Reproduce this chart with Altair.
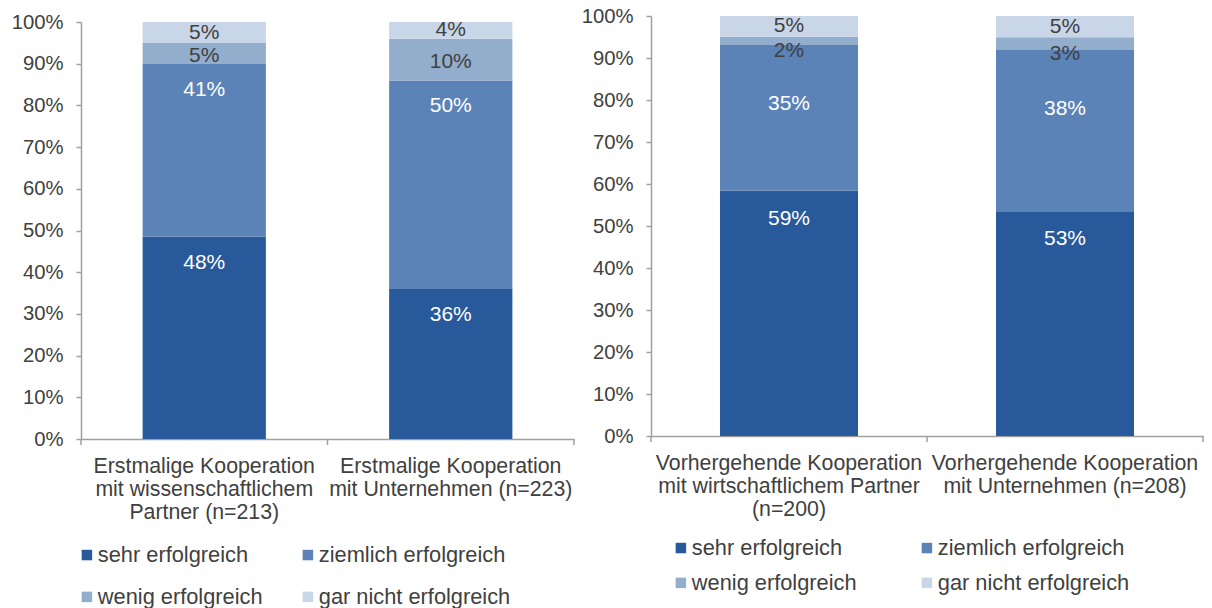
import altair as alt
import pandas as pd

levels = ["sehr erfolgreich", "ziemlich erfolgreich", "wenig erfolgreich", "gar nicht erfolgreich"]
colors = ["#27599B", "#5C83B7", "#93ADCD", "#C8D6E7"]
# legend is filled column by column, so list the entries in that order
legend_order = [0, 2, 1, 3]

left_cats = ["Erstmalige Kooperation\nmit wissenschaftlichem\nPartner (n=213)",
             "Erstmalige Kooperation\nmit Unternehmen (n=223)"]
left_sehr = [48, 36]
left_ziemlich = [41, 50]
left_wenig = [5, 10]
left_gar = [5, 4]

right_cats = ["Vorhergehende Kooperation\nmit wirtschaftlichem Partner\n(n=200)",
              "Vorhergehende Kooperation\nmit Unternehmen (n=208)"]
right_sehr = [59, 53]
right_ziemlich = [35, 38]
right_wenig = [2, 3]
right_gar = [5, 5]

y_ticks = [0, 0.1, 0.2, 0.3, 0.4, 0.5, 0.6, 0.7, 0.8, 0.9, 1.0]

FONT = "Liberation Sans"
GRAY = "#A0A0A0"
TXT = "#404040"


def make_df(cats, series):
    rows = []
    for i, c in enumerate(cats):
        for j, lvl in enumerate(levels):
            rows.append({"cat": c, "level": lvl, "order": j, "value": series[j][i]})
    return pd.DataFrame(rows)


def panel(cats, series, W, H, yrange, dys, legend_x, legend_y, col_pad, row_pad):
    df = make_df(cats, series)
    x_axis = alt.Axis(title=None, ticks=False, labelAngle=0,
                      labelExpr="split(datum.label, '\\n')",
                      labelFontSize=21.3, labelLineHeight=23, labelPadding=16,
                      labelColor=TXT, labelLimit=500, labelFont=FONT,
                      domainColor=GRAY, domainWidth=1.5)
    x_scale = alt.Scale(paddingInner=0, paddingOuter=0)

    def xe(**kw):
        return alt.X("cat:N", sort=cats, scale=x_scale, axis=x_axis, **kw)

    sk = {"domain": [0, 1]}
    if yrange is not None:
        sk["range"] = yrange
    y_scale = alt.Scale(**sk)
    y_axis = alt.Axis(title=None, format=".0%", values=y_ticks, grid=False,
                      tickSize=5, tickColor=GRAY, tickWidth=1.5,
                      domainColor=GRAY, domainWidth=1.5,
                      labelPadding=13, labelFontSize=20.3, labelColor=TXT, labelFont=FONT)

    def ye(field):
        return alt.Y(field, scale=y_scale, axis=y_axis)

    base = alt.Chart(df).transform_stack(
        stack="value", groupby=["cat"], as_=["v0", "v1"], offset="normalize",
        sort=[alt.SortField(field="order", order="ascending")]
    ).transform_calculate(
        mid="(datum.v0 + datum.v1) / 2", label="datum.value + '%'"
    )

    bars = base.mark_bar(width=alt.RelativeBandSize(0.5)).encode(
        x=xe(),
        y=ye("v0:Q"),
        y2="v1:Q",
        color=alt.Color("level:N",
                        scale=alt.Scale(domain=[levels[k] for k in legend_order],
                                        range=[colors[k] for k in legend_order]),
                        legend=alt.Legend(title=None, orient="none", legendX=legend_x, legendY=legend_y,
                                          columns=2, columnPadding=col_pad, rowPadding=row_pad,
                                          symbolType="square", symbolSize=110, symbolStrokeWidth=0,
                                          labelFontSize=21.8, labelColor=TXT, labelFont=FONT,
                                          labelOffset=0, padding=0, labelLimit=400)),
    )

    layers = [bars]
    for lvl, field, col in [(levels[0], "v1:Q", "white"), (levels[1], "v1:Q", "white"),
                            (levels[2], "mid:Q", TXT), (levels[3], "mid:Q", TXT)]:
        t = base.transform_filter(alt.datum.level == lvl).mark_text(
            font=FONT, fontSize=21, color=col, baseline="middle", dy=dys[lvl]
        ).encode(x=xe(), y=ye(field), text="label:N")
        layers.append(t)

    cat_df = pd.DataFrame({"cat": cats})
    ticks = alt.Chart(cat_df).mark_rule(color=GRAY, strokeWidth=1.5).encode(
        x=xe(bandPosition=0), y=alt.value(H), y2=alt.value(H + 6)
    )
    end_tick = alt.Chart(pd.DataFrame({"e": [0]})).mark_rule(color=GRAY, strokeWidth=1.5).encode(
        x=alt.value(W), y=alt.value(H), y2=alt.value(H + 6)
    )
    layers += [ticks, end_tick]
    return alt.layer(*layers).properties(width=W, height=H)


left = panel(left_cats, [left_sehr, left_ziemlich, left_wenig, left_gar],
             W=493, H=423, yrange=[423, 6],
             dys={levels[0]: 26, levels[1]: 26, levels[2]: 2, levels[3]: 0},
             legend_x=-5, legend_y=528, col_pad=34, row_pad=19)
right = panel(right_cats, [right_sehr, right_ziemlich, right_wenig, right_gar],
              W=552, H=420, yrange=None,
              dys={levels[0]: 28, levels[1]: 59, levels[2]: 10, levels[3]: 0},
              legend_x=19, legend_y=521, col_pad=59, row_pad=12)

chart = alt.hconcat(left, right, spacing=77, bounds="flush").resolve_legend(
    color="independent"
).resolve_scale(color="independent").properties(
    padding={"left": 3, "top": -2, "right": 0, "bottom": 0}
).configure(font=FONT).configure_view(stroke=None)

chart.save("out.html", embed_options={"renderer": "svg", "actions": False})
